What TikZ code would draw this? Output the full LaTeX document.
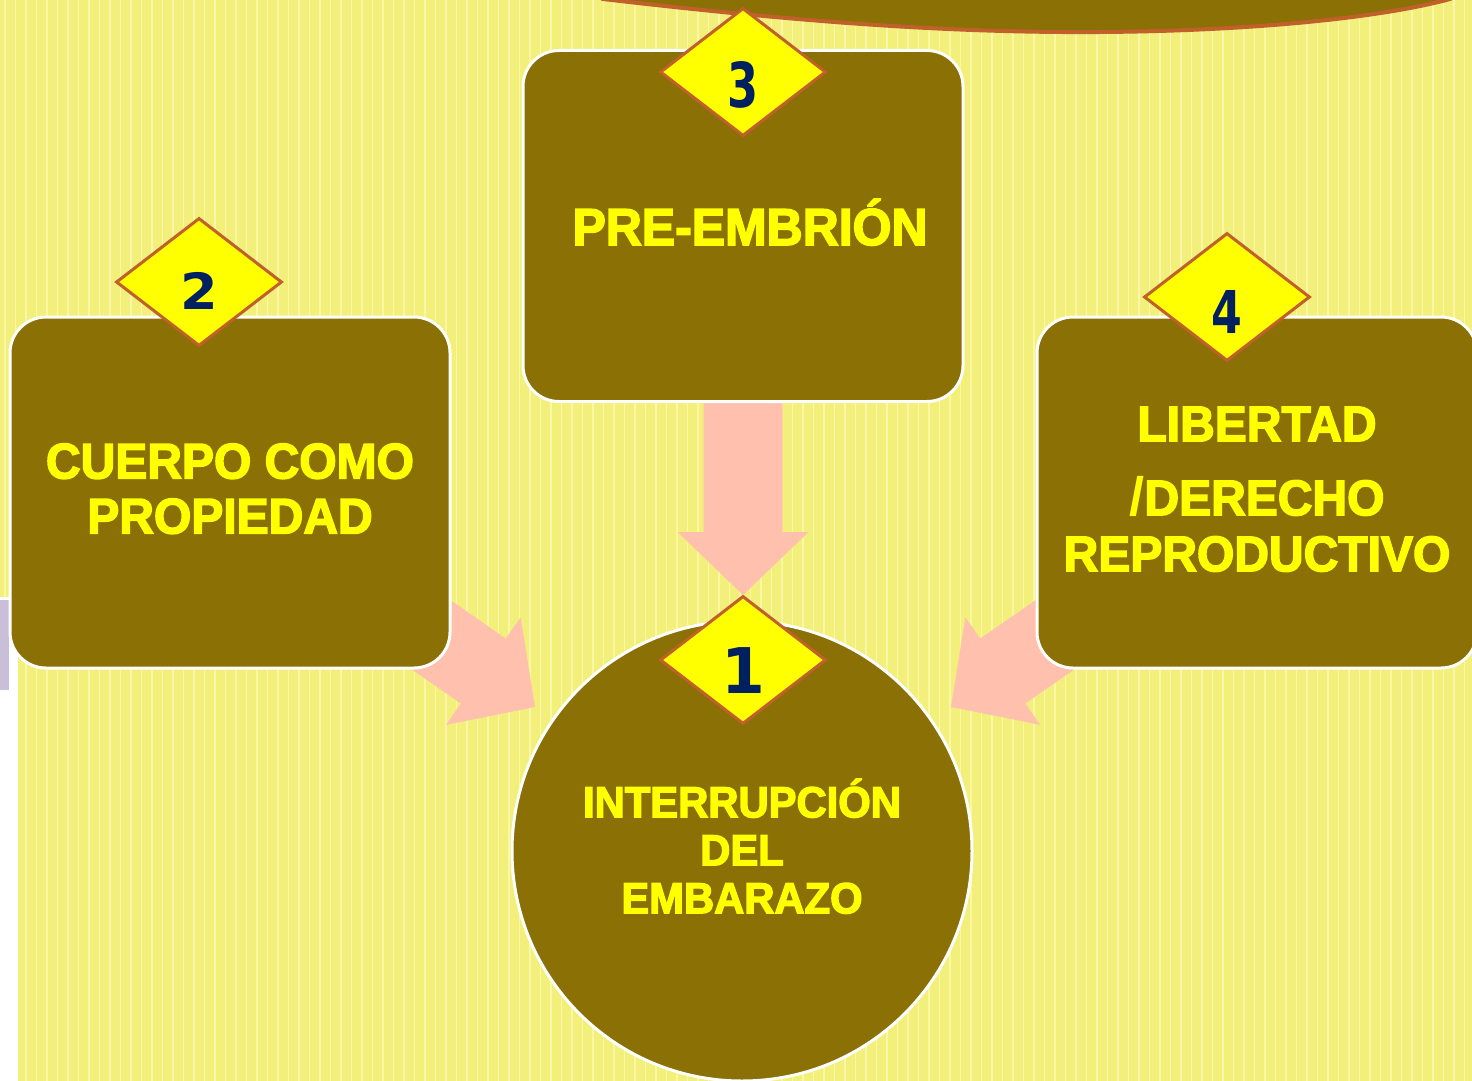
\documentclass[tikz,border=0pt]{standalone}
\usepackage{fontspec}
\setmainfont{Liberation Sans}
\newfontfamily\heavy[FakeStretch=0.96, BoldFeatures={FakeBold=3}]{Liberation Sans}
\newfontfamily\plainsl{Liberation Sans}
\newfontfamily\numfont{DejaVu Sans}
\usetikzlibrary{shapes.geometric}
\definecolor{boxolive}{HTML}{8B7006}
\definecolor{bgyel}{HTML}{F2EF7A}
\definecolor{stripeyel}{HTML}{FAF8A6}
\definecolor{pinkarr}{HTML}{FFC1AE}
\definecolor{dborder}{HTML}{C0602A}
\definecolor{navy}{HTML}{002060}
\definecolor{txtyel}{HTML}{FFFF00}
\definecolor{lavend}{HTML}{C9BFD8}
\begin{document}
\begin{tikzpicture}[x=1pt,y=-1pt,
  boxst/.style={draw=white, line width=3pt, fill=boxolive, rounded corners=36pt,
    minimum width=440pt, minimum height=351pt, inner sep=0pt, align=center, text=txtyel},
  circst/.style={circle, draw=white, line width=3pt, fill=boxolive, minimum size=460pt,
    inner sep=0pt, align=center, text=txtyel},
  diam/.style={diamond, draw=dborder, fill=txtyel, line width=3pt,
    minimum width=166pt, minimum height=128pt, inner sep=0pt},
  num/.style={inner sep=0pt, text=navy},
  blockarrow/.pic={\fill[pinkarr] (0,0) -- (65.5,-63) -- (39.5,-63) -- (39.5,-210)
    -- (-39.5,-210) -- (-39.5,-63) -- (-65.5,-63) -- cycle;}
]
\useasboundingbox (0,0) rectangle (1472,1081);
\clip (0,0) rectangle (1472,1081);
% background
\fill[bgyel] (0,0) rectangle (1472,1081);
\foreach \i in {0,...,140} \fill[stripeyel] ({4+\i*10.5},0) rectangle ++(1.6,1081);
\fill[white] (0,597) rectangle (18,1081);
\fill[lavend] (0,600) rectangle (9,690);
% top ellipse
\draw[line width=4pt, draw=dborder, fill=boxolive] (600,-12) -- (603,-1)
  .. controls (800,22) and (950,33) .. (1100,32)
  .. controls (1250,31) and (1380,18) .. (1450,-1) -- (1453,-12) -- cycle;
% arrows
\pic at (743,595) {blockarrow};
\pic[rotate=55.2] at (535,707) {blockarrow};
\pic[rotate=-55.2] at (951,707) {blockarrow};
% boxes
\node[boxst, text depth=8pt, font={\heavy\bfseries\fontsize{52}{60}\selectfont}] (b3) at (743,226)
  {\hspace*{14pt}PRE-EMBRIÓN};
\node[boxst, text depth=8pt, font={\heavy\bfseries\fontsize{50}{55}\selectfont}] (b2) at (230,492.5)
  {CUERPO COMO\\PROPIEDAD};
\node[boxst, text depth=7pt, font={\heavy\bfseries\fontsize{50}{56}\selectfont}] (b4) at (1257,492.5)
  {LIBERTAD\\[18pt]{\plainsl\fontsize{54}{56}\selectfont /}DERECHO\\REPRODUCTIVO};
\node[circst, text depth=10pt, font={\heavy\bfseries\fontsize{43.5}{48}\selectfont}] (c1) at (742,851)
  {INTERRUPCIÓN\\DEL\\EMBARAZO};
% diamonds
\node[diam] (d3) at (743,72) {};
\node[diam] (d2) at (199,282) {};
\node[diam] (d4) at (1227,297) {};
\node[diam] (d1) at (743,660) {};
\node[num, font={\numfont\bfseries\fontsize{62}{62}\selectfont}] (n3) at (743,85) {\scalebox{0.72}[1]{3}};
\node[num, font={\numfont\bfseries\fontsize{50}{50}\selectfont}] (n2) at (199,291) {\scalebox{1.08}[1]{2}};
\node[num, font={\numfont\bfseries\fontsize{59}{59}\selectfont}] (n4) at (1227,311.5) {\scalebox{0.75}[1]{4}};
\node[num, font={\numfont\bfseries\fontsize{63}{63}\selectfont}] (n1) at (743.5,671) {1};
\end{tikzpicture}
\end{document}
